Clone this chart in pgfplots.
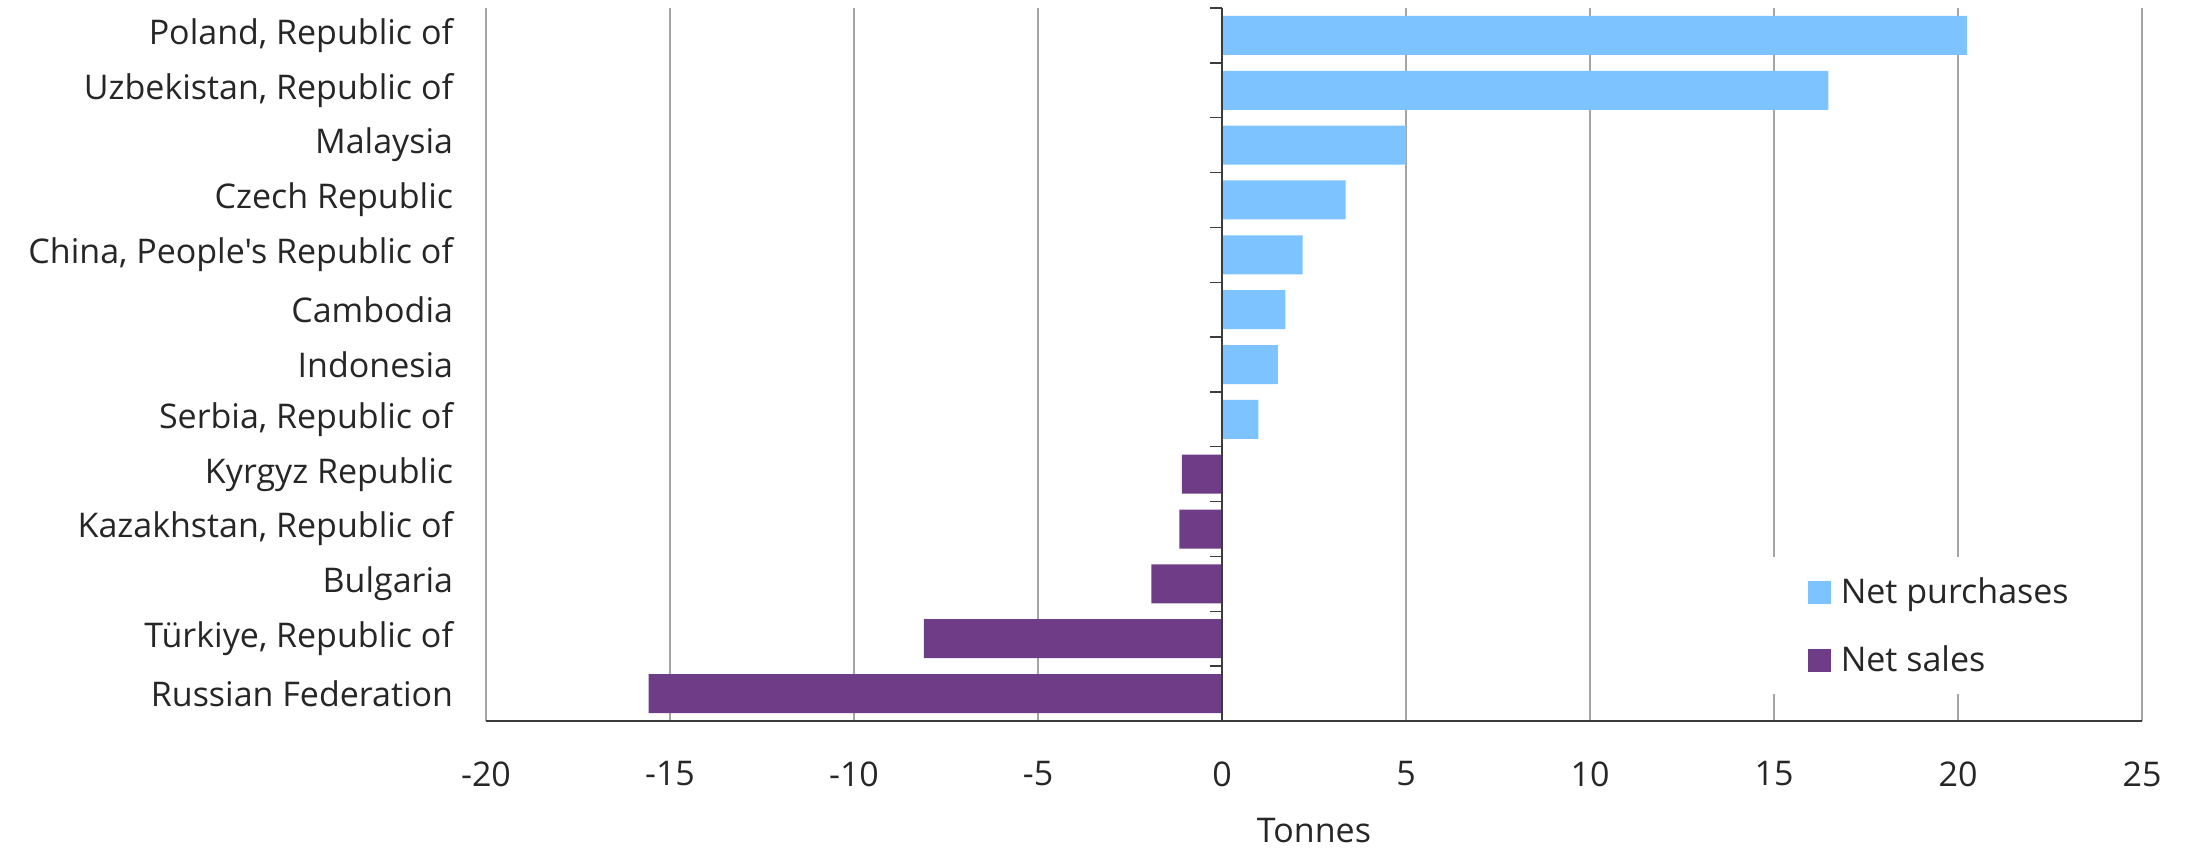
\documentclass[border=0pt]{standalone}
\usepackage{pgfplots}
\pgfplotsset{compat=1.18}
\usepackage{fontspec}
\setmainfont{Open Sans}[Ligatures=TeXOff]
\definecolor{purch}{RGB}{125,195,255}
\definecolor{sales}{RGB}{111,61,135}
\definecolor{txt}{RGB}{38,38,38}
\definecolor{gridc}{RGB}{165,165,165}
\definecolor{axisc}{RGB}{60,60,60}

% Net purchases (positive) and net sales (negative), tonnes
\pgfplotstableread{
y val
5 0.99
6 1.52
7 1.72
8 2.19
9 3.36
10 5.00
11 16.48
12 20.25
}\purchases
\pgfplotstableread{
y val
0 -15.58
1 -8.10
2 -1.92
3 -1.16
4 -1.09
}\sales

\begin{document}
\begin{tikzpicture}
\begin{axis}[
  at={(0,0)}, anchor=south west,
  scale only axis, width=828pt, height=356.5pt,
  xmin=-20, xmax=25, ymin=-0.5, ymax=12.5,
  xbar, bar width=19.5pt, bar shift=0pt,
  axis x line*=bottom, axis y line*=left,
  x axis line style={-, draw=axisc, line width=1.3pt},
  y axis line style={draw=none},
  xtick={-20,-15,...,25},
  xticklabels={-20,-15,-10,-5,0,5,10,15,20,25},
  xtick style={draw=none}, ytick style={draw=none},
  xmajorgrids, grid style={gridc, line width=0.9pt},
  ytick={0,...,12},
  yticklabels={Russian Federation, {Türkiye, Republic of}, Bulgaria,
    {Kazakhstan, Republic of}, Kyrgyz Republic, {Serbia, Republic of},
    Indonesia, Cambodia, {China, People's Republic of}, Czech Republic,
    Malaysia, {Uzbekistan, Republic of}, {Poland, Republic of}},
  font=\fontsize{17}{20}\selectfont, text=txt,
  yticklabel style={anchor=east, inner sep=0pt, xshift=-12pt, text=txt},
  xticklabel style={anchor=north, inner sep=0pt, yshift=-20pt, text=txt},
  xlabel={Tonnes},
  xlabel style={at={(axis description cs:0.5,0)}, anchor=center, yshift=-55pt, text=txt},
  legend style={at={(axis cs:14.82,2.49)}, anchor=north west, draw=none, fill=white,
    inner xsep=20pt, inner ysep=10pt, row sep=19.5pt, column sep=5pt,
    nodes={inner sep=0pt, text=txt, anchor=base west}},
  legend cell align=left,
  legend image code/.code={\fill[#1] (0pt,-0.5pt) rectangle (11.5pt,11pt);},
]
\addplot[fill=purch, draw=none] table[x=val, y=y] {\purchases};
\addlegendentry{Net purchases}
\addplot[fill=sales, draw=none] table[x=val, y=y] {\sales};
\addlegendentry{Net sales}
% zero line with category separators
\draw[axisc, line width=0.7pt] (axis cs:0,-0.5) -- (axis cs:0,12.5);
\pgfplotsinvokeforeach{-0.5,0.5,...,12.5}{
  \draw[axisc, line width=0.7pt] (axis cs:0,#1) -- ++(-6pt,0pt);
}
\end{axis}
\pgfresetboundingbox
\path (-243pt,-63pt) rectangle (849.5pt,360.5pt);
\end{tikzpicture}
\end{document}
